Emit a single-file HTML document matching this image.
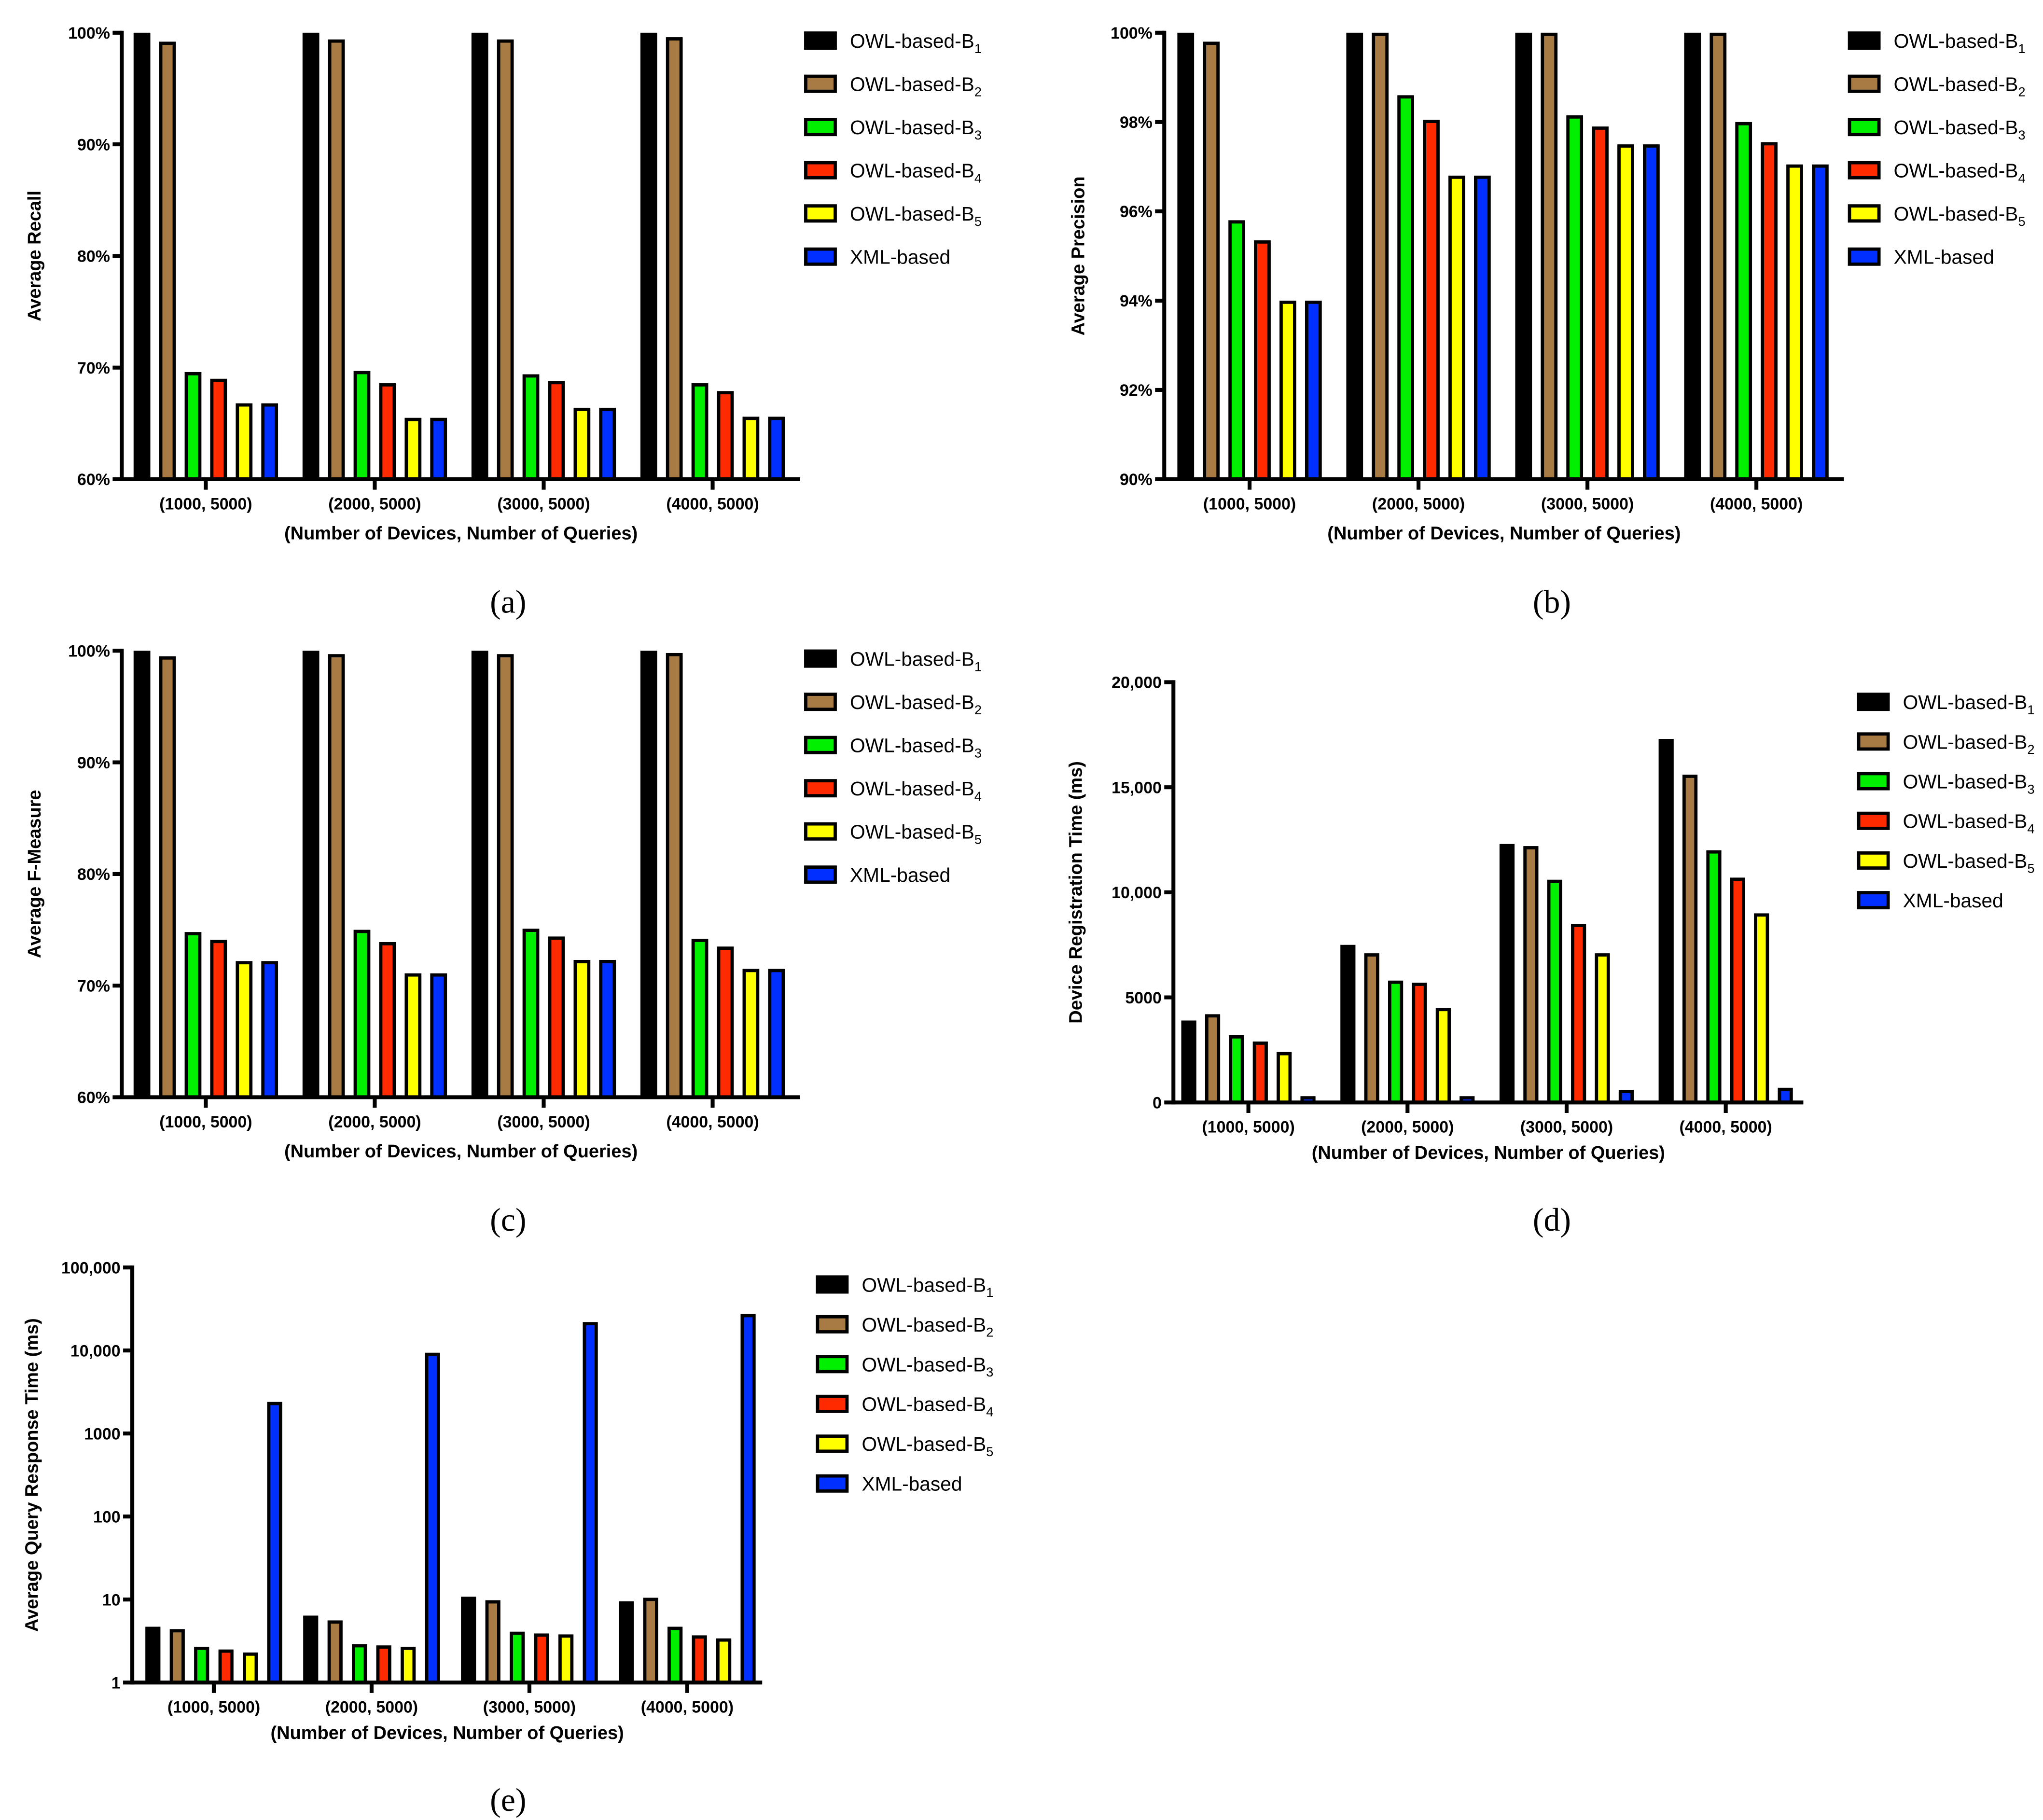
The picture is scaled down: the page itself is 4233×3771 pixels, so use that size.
<!DOCTYPE html>
<html><head><meta charset="utf-8"><style>
html,body{margin:0;padding:0;background:#fff}
svg{display:block}
</style></head><body>
<svg id="fig" width="4233" height="3771" viewBox="0 0 1560 1390" preserveAspectRatio="none" xmlns="http://www.w3.org/2000/svg" font-family="Liberation Sans, Arial, sans-serif">
<rect width="1560" height="1390" fill="#fff"/>
</svg>
<script>
const categories = ["(1000, 5000)","(2000, 5000)","(3000, 5000)","(4000, 5000)"];
const seriesNames = ["OWL-based-B1","OWL-based-B2","OWL-based-B3","OWL-based-B4","OWL-based-B5","XML-based"];
const recallValues = [[100,99.2,69.6,69.0,66.8,66.8],[100,99.4,69.7,68.6,65.5,65.5],[100,99.4,69.4,68.8,66.4,66.4],[100,99.6,68.6,67.9,65.6,65.6]];
const precisionValues = [[100,99.8,95.8,95.35,94.0,94.0],[100,100,98.6,98.05,96.8,96.8],[100,100,98.15,97.9,97.5,97.5],[100,100,98.0,97.55,97.05,97.05]];
const fmeasureValues = [[100,99.5,74.8,74.1,72.2,72.2],[100,99.7,75.0,73.9,71.1,71.1],[100,99.7,75.1,74.4,72.3,72.3],[100,99.8,74.2,73.5,71.5,71.5]];
const registrationValues = [[3900,4200,3200,2900,2400,300],[7500,7100,5800,5700,4500,300],[12300,12200,10600,8500,7100,600],[17300,15600,12000,10700,9000,700]];
const responseValues = [[4.7,4.4,2.7,2.5,2.3,2400],[6.4,5.6,2.9,2.8,2.7,9400],[10.8,9.8,4.1,3.9,3.8,22000],[9.5,10.5,4.7,3.7,3.4,27500]];
const pctTicks = [60,70,80,90,100];
const pctTickLabels = ["60%","70%","80%","90%","100%"];
const precTicks = [90,92,94,96,98,100];
const precTickLabels = ["90%","92%","94%","96%","98%","100%"];
const regTicks = [0,5000,10000,15000,20000];
const regTickLabels = ["0","5000","10,000","15,000","20,000"];
const logTicks = [1,10,100,1000,10000,100000];
const logTickLabels = ["1","10","100","1000","10,000","100,000"];

const colors = ["#000000","#a87b45","#00f000","#ff2a00","#ffff00","#0030ff"];
const NS="http://www.w3.org/2000/svg";
const svg=document.getElementById('fig');
function mk(tag,attrs,parent){const e=document.createElementNS(NS,tag);for(const k in attrs)e.setAttribute(k,attrs[k]);(parent||svg).appendChild(e);return e;}

function chart(c){
  const g=mk('g',{});
  
  
  const lo=c.ticks[0], hi=c.ticks[c.ticks.length-1];
  const yScale = c.log ? v=>c.bottom-(Math.log10(v)-Math.log10(lo))/(Math.log10(hi)-Math.log10(lo))*(c.bottom-c.top)
                       : v=>c.bottom-(v-lo)/(hi-lo)*(c.bottom-c.top);
  const xScale=(gi,si)=>c.x0+gi*c.gStep+si*c.bStep;
  c.data.forEach((grp,gi)=>grp.forEach((v,si)=>{
    const x=xScale(gi,si), y=yScale(Math.max(v,lo)), h=c.bottom-y;
    const r=mk('rect',{x:x+1.25,y:y+1.25,width:c.bw-2.5,height:Math.max(h-1.25,0),fill:colors[si],stroke:'#000','stroke-width':2.5},g);
    
    
  }));
  mk('line',{x1:c.ax,y1:c.top-1.5,x2:c.ax,y2:c.bottom+1.5,stroke:'#000','stroke-width':3},g);
  mk('line',{x1:c.ax,y1:c.bottom,x2:c.xEnd,y2:c.bottom,stroke:'#000','stroke-width':3},g);
  c.ticks.forEach((t,i)=>{
    const y=yScale(t);
    mk('line',{x1:c.ax-7,y1:y,x2:c.ax,y2:y,stroke:'#000','stroke-width':3},g);
    const tx=mk('text',{x:c.ax-9,y:y+4.5,'text-anchor':'end','font-size':12.5,'font-weight':'bold'},g);
    tx.textContent=c.tickLabels[i];
    
    
  });
  categories.forEach((cat,gi)=>{
    const cx=xScale(gi,0)+(c.bStep*5+c.bw)/2;
    mk('line',{x1:cx,y1:c.bottom,x2:cx,y2:c.bottom+8,stroke:'#000','stroke-width':3},g);
    const tx=mk('text',{x:cx,y:c.bottom+23,'text-anchor':'middle','font-size':12.5,'font-weight':'bold'},g);
    tx.textContent=cat;
    
    
  });
  const xt=mk('text',{x:(c.ax+c.xEnd)/2,y:c.bottom+c.xtOff,'text-anchor':'middle','font-size':14,'font-weight':'bold'},g);
  xt.textContent='(Number of Devices, Number of Queries)';
  
  
  const yt=mk('text',{x:0,y:0,transform:`translate(${c.ytx},${(c.top+c.bottom)/2}) rotate(-90)`,'text-anchor':'middle','font-size':14,'font-weight':'bold'},g);
  yt.textContent=c.ytitle;
  
  
  seriesNames.forEach((n,i)=>{
    const y=c.legY+i*c.legStep;
    const r=mk('rect',{x:c.legX+1.25,y:y-5.75,width:22.5,height:11.5,fill:colors[i],stroke:'#000','stroke-width':2.5},g);
    
    
    const tx=mk('text',{x:c.legX+35,y:y+5.5,'font-size':15},g);
    
    
    if(i<5){tx.appendChild(document.createTextNode('OWL-based-B'));const s=mk('tspan',{'font-size':10,dy:4},tx);s.textContent=String(i+1);}
    else tx.textContent=n;
  });
  const lab=mk('text',{x:c.labX,y:c.labY,'text-anchor':'middle','font-size':25,'font-family':'Liberation Serif, serif'},g);
  lab.textContent=c.label;
  
  
}

chart({name:'chart-a-recall',data:recallValues,ticks:pctTicks,tickLabels:pctTickLabels,top:25,bottom:366,ax:93,xEnd:611,x0:102,gStep:129,bStep:19.5,bw:12.8,xtOff:46,ytx:31,ytitle:'Average Recall',legX:614,legY:31,legStep:33,labX:388,labY:468,label:'(a)'});
chart({name:'chart-b-precision',data:precisionValues,ticks:precTicks,tickLabels:precTickLabels,top:25,bottom:366,ax:889,xEnd:1408,x0:899,gStep:129,bStep:19.5,bw:12.8,xtOff:46,ytx:828,ytitle:'Average Precision',legX:1411,legY:31,legStep:33,labX:1185,labY:468,label:'(b)'});
chart({name:'chart-c-fmeasure',data:fmeasureValues,ticks:pctTicks,tickLabels:pctTickLabels,top:497,bottom:838,ax:93,xEnd:611,x0:102,gStep:129,bStep:19.5,bw:12.8,xtOff:46,ytx:31,ytitle:'Average F-Measure',legX:614,legY:503,legStep:33,labX:388,labY:940,label:'(c)'});
chart({name:'chart-d-registration',data:registrationValues,ticks:regTicks,tickLabels:regTickLabels,top:521,bottom:842,ax:896,xEnd:1377,x0:902,gStep:121.5,bStep:18.2,bw:11.5,xtOff:43,ytx:826,ytitle:'Device Registration Time (ms)',legX:1418,legY:536,legStep:30.3,labX:1185,labY:940,label:'(d)'});
chart({name:'chart-e-response',log:true,data:responseValues,ticks:logTicks,tickLabels:logTickLabels,top:968,bottom:1285,ax:101,xEnd:582,x0:111,gStep:120.5,bStep:18.6,bw:11.5,xtOff:43,ytx:29,ytitle:'Average Query Response Time (ms)',legX:623,legY:981,legStep:30.4,labX:388,labY:1383,label:'(e)'});
</script>
</body></html>
